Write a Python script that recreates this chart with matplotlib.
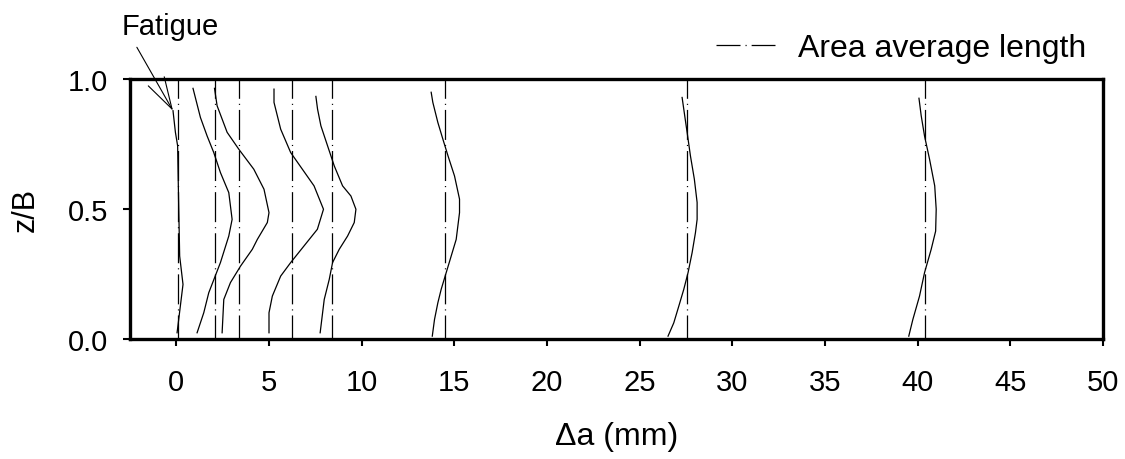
import matplotlib
matplotlib.use("Agg")
import matplotlib.pyplot as plt

plt.rcParams['font.family'] = ['Liberation Sans', 'DejaVu Sans']
plt.rcParams['lines.scale_dashes'] = False

# Area-average crack extension (mm) for each stage
avg_lengths = [0.09, 2.07, 3.37, 6.25, 8.41, 14.47, 27.56, 40.37]

# Crack front profiles: (delta a [mm], z/B)
fatigue_x = [-0.18, -0.05, 0.07, 0.12, 0.18, 0.36, 0.04]
fatigue_z = [0.878, 0.795, 0.743, 0.538, 0.319, 0.210, 0.024]

c2_x = [0.90, 1.30, 1.66, 2.02, 2.38, 2.83, 3.01, 2.83, 2.38, 1.75, 1.48, 1.12]
c2_z = [0.964, 0.852, 0.781, 0.717, 0.640, 0.563, 0.460, 0.396, 0.294, 0.178, 0.101, 0.024]

c3_x = [2.06, 2.20, 2.74, 3.37, 4.18, 4.73, 5.00, 4.91, 4.37, 4.10, 3.47, 2.92, 2.56, 2.47]
c3_z = [0.964, 0.897, 0.795, 0.730, 0.653, 0.576, 0.486, 0.448, 0.383, 0.345, 0.281, 0.217, 0.152, 0.024]

c4_x = [5.27, 5.27, 5.63, 6.17, 6.80, 7.43, 7.94, 7.61, 6.89, 6.17, 5.63, 5.18, 5.00, 5.00]
c4_z = [0.961, 0.910, 0.807, 0.717, 0.653, 0.589, 0.499, 0.422, 0.358, 0.294, 0.242, 0.165, 0.101, 0.024]

c5_x = [7.53, 7.62, 7.80, 8.16, 8.52, 8.97, 9.42, 9.69, 9.60, 9.24, 8.79, 8.43, 8.25, 7.98, 7.76]
c5_z = [0.933, 0.884, 0.820, 0.743, 0.666, 0.589, 0.550, 0.499, 0.448, 0.396, 0.345, 0.294, 0.229, 0.152, 0.024]

c6_x = [13.75, 13.84, 14.11, 14.38, 14.66, 15.01, 15.28, 15.28, 15.10, 14.83, 14.56, 14.29, 14.11, 13.93, 13.81]
c6_z = [0.949, 0.910, 0.833, 0.769, 0.704, 0.627, 0.538, 0.486, 0.383, 0.319, 0.255, 0.191, 0.139, 0.075, 0.011]

c7_x = [27.29, 27.43, 27.56, 27.74, 27.95, 28.10, 28.10, 28.01, 27.83, 27.61, 27.38, 27.11, 26.84, 26.53]
c7_z = [0.929, 0.859, 0.795, 0.704, 0.615, 0.525, 0.460, 0.409, 0.332, 0.255, 0.191, 0.126, 0.062, 0.011]

c8_x = [40.07, 40.19, 40.37, 40.64, 40.92, 41.00, 40.97, 40.73, 40.37, 40.10, 39.74, 39.52]
c8_z = [0.926, 0.859, 0.781, 0.692, 0.589, 0.499, 0.415, 0.345, 0.255, 0.165, 0.075, 0.011]

profiles = [(fatigue_x, fatigue_z), (c2_x, c2_z), (c3_x, c3_z), (c4_x, c4_z),
            (c5_x, c5_z), (c6_x, c6_z), (c7_x, c7_z), (c8_x, c8_z)]

x_ticks = [0, 5, 10, 15, 20, 25, 30, 35, 40, 45, 50]
y_ticks = [0.0, 0.5, 1.0]
y_ticklabels = ['0.0', '0.5', '1.0']

fig = plt.figure(figsize=(11.25, 4.6), dpi=100)
ax = fig.add_axes([130/1125, 1-340/460, (1103-130)/1125, (340-80)/460])

dashdot = (4.3, (21.6, 3.6, 0.8, 3.6))
for i, a in enumerate(avg_lengths):
    ax.axvline(a, color='black', lw=0.9, linestyle=dashdot,
               label='Area average length' if i == 0 else None)

for px, pz in profiles:
    ax.plot(px, pz, color='black', lw=0.9)

ax.set_xlim(-2.5, 50)
ax.set_ylim(0, 1)
ax.set_xticks(x_ticks)
ax.set_yticks(y_ticks)
ax.set_yticklabels(y_ticklabels)
ax.tick_params(axis='both', labelsize=21, direction='out', length=5, width=1.5)
ax.tick_params(axis='x', pad=16)
ax.tick_params(axis='y', pad=11)
for s in ax.spines.values():
    s.set_linewidth(2.4)

ax.set_xlabel('\u0394a (mm)', fontsize=23, labelpad=18)
ax.set_ylabel('z/B', fontsize=22, labelpad=19)

leg = ax.legend(loc='center right', bbox_to_anchor=(1086/1125, 1-49/460),
                bbox_transform=fig.transFigure, frameon=False,
                fontsize=23, handlelength=1.85, handletextpad=0.7,
                borderaxespad=0, borderpad=0)

ax.annotate('', xy=(-0.18, 0.878), xytext=(-2.13, 1.122), annotation_clip=False,
            arrowprops=dict(arrowstyle='->,head_length=2.29,head_width=0.66',
                            mutation_scale=10, lw=0.8, color='black',
                            shrinkA=0, shrinkB=0))
fig.text(122/1125, 1-35/460, 'Fatigue', fontsize=21, ha='left', va='baseline')

fig.savefig('out.png', dpi=100)
